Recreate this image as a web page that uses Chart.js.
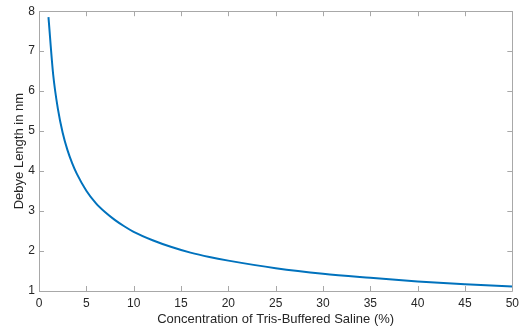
<!DOCTYPE html>
<html><head><meta charset="utf-8">
<script src="https://cdn.jsdelivr.net/npm/chart.js@4/dist/chart.umd.min.js"></script>
<style>html,body{margin:0;padding:0;background:#fff}#c{display:block}</style>
</head><body>
<div style="width:524px;height:333px"><canvas id="c" width="524" height="333"></canvas></div>
<script>
const concentration = [1,1.5,2,2.5,3,3.5,4,5,6,7,8,9,10,12,14,16,18,20,25,30,35,40,45,50];
const debyeLength = [7.85,6.41,5.55,4.96,4.53,4.20,3.93,3.51,3.20,2.97,2.78,2.62,2.48,2.27,2.10,1.96,1.85,1.76,1.57,1.43,1.33,1.24,1.17,1.11];
const xTicks = [0,5,10,15,20,25,30,35,40,45,50];
const yTicks = [1,2,3,4,5,6,7,8];

const axisColor = '#a8a8a8';
const boxTicks = {
  id: 'boxTicks',
  afterDraw(chart) {
    const {ctx, chartArea: a, scales: {x, y}} = chart;
    ctx.save();
    ctx.strokeStyle = axisColor;
    ctx.lineWidth = 1;
    ctx.beginPath();
    ctx.rect(Math.round(a.left)+0.5, Math.round(a.top)+0.5, Math.round(a.right-a.left), Math.round(a.bottom-a.top));
    const L = 5;
    xTicks.forEach(v => {
      const px = Math.round(x.getPixelForValue(v))+0.5;
      ctx.moveTo(px, a.bottom); ctx.lineTo(px, a.bottom - L);
      ctx.moveTo(px, a.top); ctx.lineTo(px, a.top + L);
    });
    yTicks.forEach(v => {
      const py = Math.round(y.getPixelForValue(v))+0.5;
      ctx.moveTo(a.left, py); ctx.lineTo(a.left + L, py);
      ctx.moveTo(a.right, py); ctx.lineTo(a.right - L, py);
    });
    ctx.stroke();
    ctx.restore();
  }
};

new Chart(document.getElementById('c'), {
  type: 'line',
  data: {
    datasets: [{
      data: concentration.map((c, i) => ({x: c, y: debyeLength[i]})),
      borderColor: '#0072BD',
      borderWidth: 2,
      pointRadius: 0,
      tension: 0.4,
      cubicInterpolationMode: 'monotone',
      fill: false
    }]
  },
  options: {
    responsive: false,
    animation: false,
    layout: {padding: {top: 10, right: 11, left: 0, bottom: 0}},
    plugins: {legend: {display: false}, tooltip: {enabled: false}},
    scales: {
      x: {
        type: 'linear', min: 0, max: 50,
        afterBuildTicks: s => { s.ticks = xTicks.map(v => ({value: v})); },
        afterFit: s => { s.height = 42; },
        grid: {display: false, drawTicks: false},
        border: {display: false},
        ticks: {color: '#262626', font: {family: 'Liberation Sans', size: 12}, padding: 5, maxRotation: 0},
        title: {display: true, text: 'Concentration of Tris-Buffered Saline (%)', color: '#262626', font: {family: 'Liberation Sans', size: 13}, padding: {top: 0, bottom: 6}}
      },
      y: {
        type: 'linear', min: 1, max: 8,
        afterBuildTicks: s => { s.ticks = yTicks.map(v => ({value: v})); },
        afterFit: s => { s.width = 39; },
        grid: {display: false, drawTicks: false},
        border: {display: false},
        ticks: {color: '#262626', font: {family: 'Liberation Sans', size: 12}, padding: 4},
        title: {display: true, text: 'Debye Length in nm', color: '#262626', font: {family: 'Liberation Sans', size: 13}, padding: {top: 12, bottom: 0}}
      }
    }
  },
  plugins: [boxTicks]
});
</script>
</body></html>
